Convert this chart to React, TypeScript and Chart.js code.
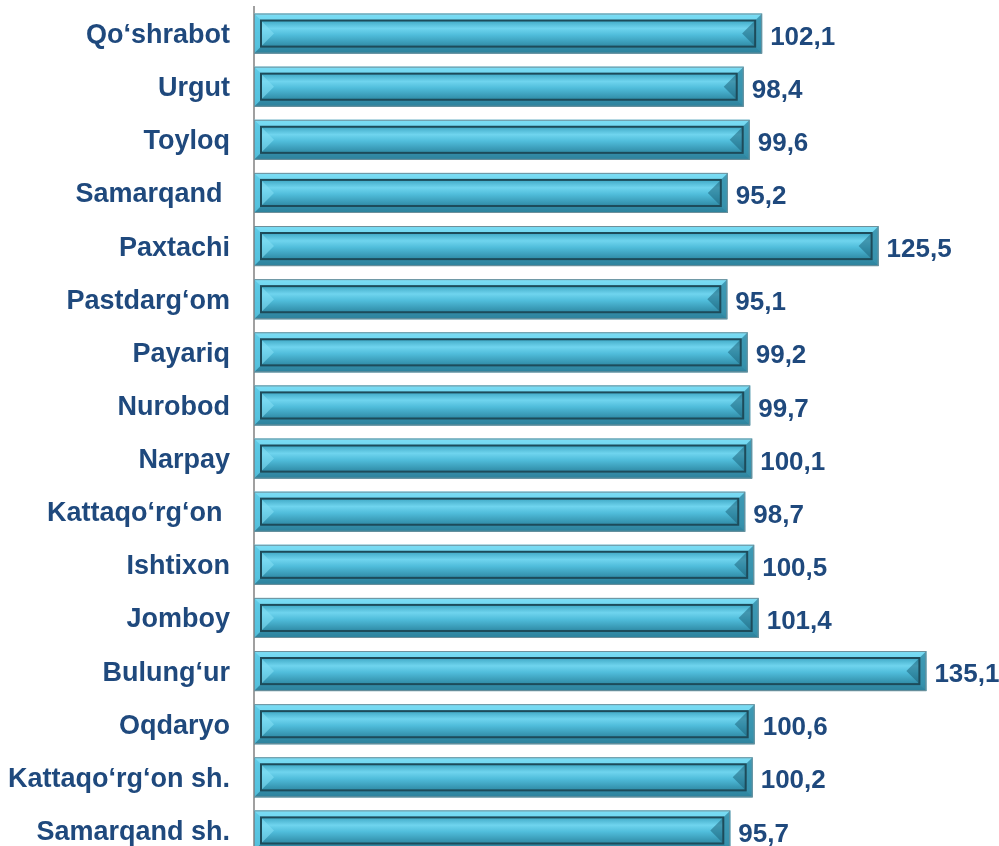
import React, { useEffect, useRef } from "react";
import { Chart, registerables } from "chart.js";

Chart.register(...registerables);

const categories = [
  "Qo‘shrabot",
  "Urgut",
  "Toyloq",
  "Samarqand ",
  "Paxtachi",
  "Pastdarg‘om",
  "Payariq",
  "Nurobod",
  "Narpay",
  "Kattaqo‘rg‘on ",
  "Ishtixon",
  "Jomboy",
  "Bulung‘ur",
  "Oqdaryo",
  "Kattaqo‘rg‘on sh.",
  "Samarqand sh.",
];

const values = [
  102.1, 98.4, 99.6, 95.2, 125.5, 95.1, 99.2, 99.7, 100.1, 98.7, 100.5, 101.4,
  135.1, 100.6, 100.2, 95.7,
];

const FONT = "'Liberation Sans', Arial, sans-serif";
const TEXT_COLOR = "#1F497D";

function drawBevelBar(
  ctx: CanvasRenderingContext2D,
  x0: number,
  x1: number,
  yTop: number,
  yBot: number
) {
  const b = 7;
  const h = yBot - yTop;
  const g = ctx.createLinearGradient(0, yTop, 0, yBot);
  g.addColorStop(0, "#86dcf2");
  g.addColorStop(0.18, "#5ec8e5");
  g.addColorStop(0.8, "#43acc9");
  g.addColorStop(1, "#2f8199");
  ctx.fillStyle = g;
  ctx.fillRect(x0, yTop, x1 - x0, h);

  const facet = (pts: number[][], color: string) => {
    ctx.beginPath();
    ctx.moveTo(pts[0][0], pts[0][1]);
    for (let i = 1; i < pts.length; i++) ctx.lineTo(pts[i][0], pts[i][1]);
    ctx.closePath();
    ctx.fillStyle = color;
    ctx.fill();
  };
  facet(
    [
      [x0, yTop],
      [x1, yTop],
      [x1 - b, yTop + b],
      [x0 + b, yTop + b],
    ],
    "rgba(120,220,244,0.75)"
  );
  facet(
    [
      [x0, yBot],
      [x1, yBot],
      [x1 - b, yBot - b],
      [x0 + b, yBot - b],
    ],
    "rgba(45,130,156,0.7)"
  );
  facet(
    [
      [x0, yTop],
      [x0 + b, yTop + b],
      [x0 + b, yBot - b],
      [x0, yBot],
    ],
    "rgba(90,200,228,0.8)"
  );
  facet(
    [
      [x1, yTop],
      [x1 - b, yTop + b],
      [x1 - b, yBot - b],
      [x1, yBot],
    ],
    "rgba(52,140,166,0.8)"
  );

  const ix0 = x0 + b;
  const ix1 = x1 - b;
  const iy0 = yTop + b;
  const iy1 = yBot - b;
  const ih = iy1 - iy0;
  const gi = ctx.createLinearGradient(0, iy0, 0, iy1);
  gi.addColorStop(0, "#3fa8c5");
  gi.addColorStop(0.3, "#6fd4ee");
  gi.addColorStop(0.55, "#50bddb");
  gi.addColorStop(1, "#2f8aa5");
  ctx.fillStyle = gi;
  ctx.fillRect(ix0, iy0, ix1 - ix0, ih);

  const ib = Math.min(ih / 2, 10);
  facet(
    [
      [ix0, iy0],
      [ix0 + ib * 1.3, iy0 + ih / 2],
      [ix0, iy1],
    ],
    "rgba(130,222,244,0.6)"
  );
  facet(
    [
      [ix1, iy0],
      [ix1 - ib * 1.3, iy0 + ih / 2],
      [ix1, iy1],
    ],
    "rgba(30,100,124,0.55)"
  );

  ctx.strokeStyle = "#1d4b5a";
  ctx.lineWidth = 2;
  ctx.strokeRect(ix0, iy0, ix1 - ix0, ih);

  ctx.strokeStyle = "#6f909b";
  ctx.lineWidth = 1;
  ctx.strokeRect(x0 + 0.5, yTop + 0.5, x1 - x0 - 1, h - 1);
}

const bevelPlugin = {
  id: "bevelBars",
  afterDatasetsDraw(chart: any) {
    const ctx: CanvasRenderingContext2D = chart.ctx;
    const meta = chart.getDatasetMeta(0);
    ctx.save();
    meta.data.forEach((el: any, i: number) => {
      const p = el.getProps(["x", "y", "base", "height"], true);
      const yTop = p.y - p.height / 2;
      const yBot = p.y + p.height / 2;
      drawBevelBar(ctx, p.base, p.x, yTop, yBot);
      const label = values[i].toFixed(1).replace(".", ",");
      ctx.font = `bold 26px ${FONT}`;
      ctx.fillStyle = TEXT_COLOR;
      ctx.textAlign = "left";
      ctx.textBaseline = "middle";
      ctx.fillText(label, p.x + 8, p.y + 4);
    });
    ctx.restore();
  },
};

export default function App() {
  const ref = useRef<HTMLCanvasElement | null>(null);

  useEffect(() => {
    document.body.style.margin = "0";
    if (!ref.current) return;
    const chart = new Chart(ref.current, {
      type: "bar",
      data: {
        labels: categories,
        datasets: [
          {
            data: values,
            backgroundColor: "rgba(0,0,0,0)",
            borderWidth: 0,
            barPercentage: 0.755,
            categoryPercentage: 1,
          },
        ],
      },
      options: {
        indexAxis: "y",
        responsive: false,
        animation: false,
        events: [],
        layout: { padding: { left: 0, right: 8.4, top: 7, bottom: 3 } },
        plugins: {
          legend: { display: false },
          tooltip: { enabled: false },
          title: { display: false },
        },
        scales: {
          x: {
            display: false,
            min: 0,
            max: 148,
          },
          y: {
            afterFit: (scale: any) => {
              scale.width = 254;
              scale.paddingTop = 0;
              scale.paddingBottom = 0;
            },
            grid: { display: true, drawOnChartArea: false, drawTicks: false },
            border: { display: true, color: "#a0a0a0", width: 2 },
            ticks: {
              padding: 24,
              labelOffset: 2,
              color: TEXT_COLOR,
              font: { family: FONT, size: 27, weight: "bold" },
            },
          },
        },
      },
      plugins: [bevelPlugin],
    } as any);
    return () => chart.destroy();
  }, []);

  return (
    <div style={{ width: 999, height: 846, overflow: "hidden", background: "#fff" }}>
      <canvas ref={ref} width={999} height={860} style={{ display: "block", width: 999, height: 860 }} />
    </div>
  );
}
